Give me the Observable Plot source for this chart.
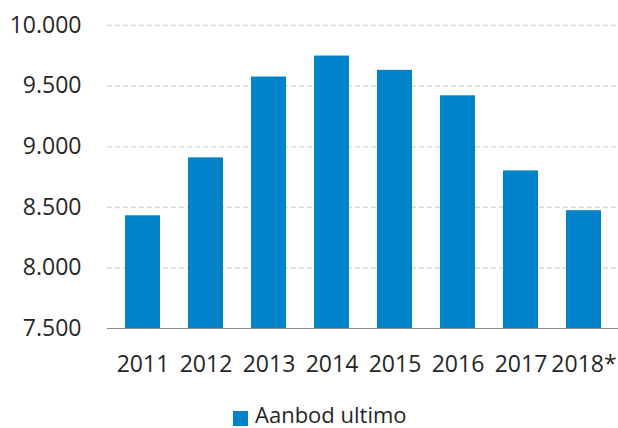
<!DOCTYPE html>
<html>
<head>
<meta charset="utf-8">
<script src="https://cdn.jsdelivr.net/npm/d3@7"></script>
<script src="https://cdn.jsdelivr.net/npm/@observablehq/plot@0.6"></script>
<style>
  html, body { margin: 0; padding: 0; background: #fff; }
  body { width: 618px; height: 428px; overflow: hidden; font-family: "Open Sans", sans-serif; color: #262626; }
  #chart svg { display: block; }
  #legend { position: relative; height: 33px; }
  #legend .sw { position: absolute; left: 233px; top: 16px; width: 15px; height: 15px; background: #0083C9; }
  #legend .lb { position: absolute; left: 255px; top: 8px; font-size: 22px; line-height: 22px; color: #262626; white-space: nowrap; }
</style>
</head>
<body>
<div id="chart"></div>
<div id="legend"><div class="sw"></div><div class="lb">Aanbod ultimo</div></div>
<script>
const years = ["2011", "2012", "2013", "2014", "2015", "2016", "2017", "2018*"];
const aanbod = [8430, 8908, 9575, 9748, 9630, 9420, 8800, 8472];
const yTicks = [7500, 8000, 8500, 9000, 9500, 10000];
const seriesName = "Aanbod ultimo";

const data = years.map((y, i) => ({year: y, value: aanbod[i]}));
const fmt = d => d3.format(",")(d).replace(/,/g, ".");
const yMin = yTicks[0];

const chart = Plot.plot({
  width: 618,
  height: 395,
  marginTop: 25,
  marginLeft: 107,
  marginRight: 0,
  marginBottom: 67,
  style: {fontFamily: "Open Sans, sans-serif", fontSize: "23px", color: "#262626", background: "#fff"},
  x: {domain: years, paddingInner: 0.45, paddingOuter: 0.225, label: null},
  y: {domain: [yTicks[0], yTicks[yTicks.length - 1]], label: null},
  marks: [
    Plot.ruleY(yTicks.slice(1), {stroke: "#d9d9d9", strokeWidth: 1.5, strokeDasharray: "5,3"}),
    Plot.barY(data, {x: "year", y1: () => yMin, y2: "value", fill: "#0083C9"}),
    Plot.ruleY([yMin], {stroke: "#8c8c8c", strokeWidth: 1}),
    Plot.axisY({ticks: yTicks, tickFormat: fmt, tickSize: 0, tickPadding: 26, fontSize: 23, label: null}),
    Plot.axisX({tickSize: 0, tickPadding: 27, fontSize: 23, label: null})
  ]
});
document.getElementById("chart").appendChild(chart);
document.querySelector("#legend .lb").textContent = seriesName;
</script>
</body>
</html>
